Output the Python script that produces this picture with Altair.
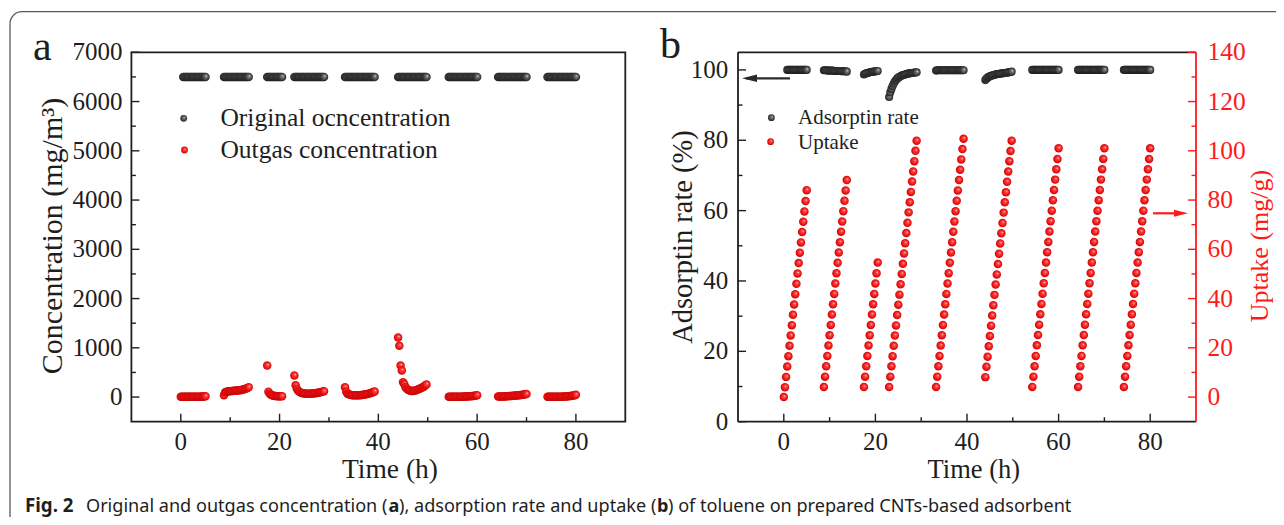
import altair as alt
import pandas as pd

SERIF = "Liberation Serif"
SANS = "Noto Sans"
RED = "#ff1a1a"
INK = "#1e1e1e"

# ---------------- sample times (h), one list per adsorption run ----------------
T1 = [0.0, 0.25, 0.5, 0.75, 1.0, 1.25, 1.5, 1.75, 2.0, 2.25, 2.5, 2.75, 3.0, 3.25, 3.5, 3.75, 4.0, 4.25, 4.5, 4.75, 5.0]
T2 = [8.75, 9.0, 9.25, 9.5, 9.75, 10.0, 10.25, 10.5, 10.75, 11.0, 11.25, 11.5, 11.75, 12.0, 12.25, 12.5, 12.75, 13.0, 13.25, 13.5, 13.75]
T3 = [17.5, 17.75, 18.0, 18.25, 18.5, 18.75, 19.0, 19.25, 19.5, 19.75, 20.0, 20.25, 20.5]
T4 = [23.0, 23.25, 23.5, 23.75, 24.0, 24.25, 24.5, 24.75, 25.0, 25.25, 25.5, 25.75, 26.0, 26.25, 26.5, 26.75, 27.0, 27.25, 27.5, 27.75, 28.0, 28.25, 28.5, 28.75, 29.0]
T5 = [33.25, 33.5, 33.75, 34.0, 34.25, 34.5, 34.75, 35.0, 35.25, 35.5, 35.75, 36.0, 36.25, 36.5, 36.75, 37.0, 37.25, 37.5, 37.75, 38.0, 38.25, 38.5, 38.75, 39.0, 39.25]
T6 = [44.0, 44.25, 44.5, 44.75, 45.0, 45.25, 45.5, 45.75, 46.0, 46.25, 46.5, 46.75, 47.0, 47.25, 47.5, 47.75, 48.0, 48.25, 48.5, 48.75, 49.0, 49.25, 49.5, 49.75]
T7 = [54.25, 54.5, 54.75, 55.0, 55.25, 55.5, 55.75, 56.0, 56.25, 56.5, 56.75, 57.0, 57.25, 57.5, 57.75, 58.0, 58.25, 58.5, 58.75, 59.0, 59.25, 59.5, 59.75, 60.0]
T8 = [64.25, 64.5, 64.75, 65.0, 65.25, 65.5, 65.75, 66.0, 66.25, 66.5, 66.75, 67.0, 67.25, 67.5, 67.75, 68.0, 68.25, 68.5, 68.75, 69.0, 69.25, 69.5, 69.75, 70.0]
T9 = [74.25, 74.5, 74.75, 75.0, 75.25, 75.5, 75.75, 76.0, 76.25, 76.5, 76.75, 77.0, 77.25, 77.5, 77.75, 78.0, 78.25, 78.5, 78.75, 79.0, 79.25, 79.5, 79.75, 80.0]

# ---------------- (a) original concentration (mg/m3) ----------------
ORIG_T1 = [0.5, 0.75, 1.0, 1.25, 1.5, 1.75, 2.0, 2.25, 2.5, 2.75, 3.0, 3.25, 3.5, 3.75, 4.0, 4.25, 4.5, 4.75, 5.0]
ORIG_1 = [6500, 6500, 6500, 6500, 6500, 6500, 6500, 6500, 6500, 6500, 6500, 6500, 6500, 6500, 6500, 6500, 6500, 6500, 6500]
ORIG_2 = [6500, 6500, 6500, 6500, 6500, 6500, 6500, 6500, 6500, 6500, 6500, 6500, 6500, 6500, 6500, 6500, 6500, 6500, 6500, 6500, 6500]
ORIG_3 = [6500, 6500, 6500, 6500, 6500, 6500, 6500, 6500, 6500, 6500, 6500, 6500, 6500]
ORIG_4 = [6500, 6500, 6500, 6500, 6500, 6500, 6500, 6500, 6500, 6500, 6500, 6500, 6500, 6500, 6500, 6500, 6500, 6500, 6500, 6500, 6500, 6500, 6500, 6500, 6500]
ORIG_5 = [6500, 6500, 6500, 6500, 6500, 6500, 6500, 6500, 6500, 6500, 6500, 6500, 6500, 6500, 6500, 6500, 6500, 6500, 6500, 6500, 6500, 6500, 6500, 6500, 6500]
ORIG_6 = [6500, 6500, 6500, 6500, 6500, 6500, 6500, 6500, 6500, 6500, 6500, 6500, 6500, 6500, 6500, 6500, 6500, 6500, 6500, 6500, 6500, 6500, 6500, 6500]
ORIG_7 = [6500, 6500, 6500, 6500, 6500, 6500, 6500, 6500, 6500, 6500, 6500, 6500, 6500, 6500, 6500, 6500, 6500, 6500, 6500, 6500, 6500, 6500, 6500, 6500]
ORIG_8 = [6500, 6500, 6500, 6500, 6500, 6500, 6500, 6500, 6500, 6500, 6500, 6500, 6500, 6500, 6500, 6500, 6500, 6500, 6500, 6500, 6500, 6500, 6500, 6500]
ORIG_9 = [6500, 6500, 6500, 6500, 6500, 6500, 6500, 6500, 6500, 6500, 6500, 6500, 6500, 6500, 6500, 6500, 6500, 6500, 6500, 6500, 6500, 6500, 6500, 6500]

# ---------------- (a) outgas concentration (mg/m3) ----------------
OUT_1 = [5, 5, 5, 5, 5, 5, 5, 5, 5, 5, 5, 5, 5, 5, 8, 8, 8, 10, 10, 12, 15]
OUT_2 = [35, 100, 110, 115, 118, 120, 122, 125, 127, 130, 132, 135, 138, 140, 145, 150, 158, 165, 175, 185, 200]
OUT_3 = [640, 110, 65, 45, 35, 28, 22, 20, 18, 16, 15, 15, 18]
OUT_4 = [440, 240, 170, 130, 110, 95, 85, 80, 75, 72, 70, 70, 70, 70, 72, 75, 78, 80, 85, 90, 95, 100, 105, 112, 120]
OUT_5 = [200, 110, 70, 55, 45, 40, 38, 36, 35, 35, 35, 36, 38, 40, 42, 45, 50, 55, 60, 68, 76, 85, 95, 105, 115]
OUT_6 = [1210, 1040, 640, 540, 300, 265, 200, 170, 150, 138, 130, 125, 125, 128, 135, 145, 155, 165, 175, 188, 200, 215, 235, 255]
OUT_7 = [5, 5, 5, 5, 5, 5, 5, 5, 6, 6, 7, 8, 10, 10, 12, 14, 15, 17, 19, 21, 24, 27, 31, 38]
OUT_8 = [10, 10, 10, 11, 12, 13, 15, 16, 18, 20, 21, 23, 25, 27, 30, 32, 35, 38, 40, 43, 46, 50, 55, 62]
OUT_9 = [5, 5, 5, 5, 5, 5, 5, 5, 6, 6, 7, 8, 9, 10, 11, 13, 15, 17, 20, 23, 26, 30, 36, 45]

# ---------------- (b) adsorption rate (%) ----------------
RATE_T1 = [0.75, 1.0, 1.25, 1.5, 1.75, 2.0, 2.25, 2.5, 2.75, 3.0, 3.25, 3.5, 3.75, 4.0, 4.25, 4.5, 4.75, 5.0]
RATE_1 = [100.0, 100.0, 100.0, 100.0, 100.0, 100.0, 100.0, 100.0, 100.0, 100.0, 100.0, 100.0, 100.0, 100.0, 100.0, 100.0, 100.0, 100.0]
RATE_2 = [99.9, 99.9, 99.9, 99.8, 99.8, 99.8, 99.8, 99.8, 99.8, 99.7, 99.7, 99.7, 99.7, 99.7, 99.7, 99.6, 99.6, 99.6, 99.6, 99.6, 99.5]
RATE_3 = [98.7, 98.9, 99.0, 99.1, 99.2, 99.3, 99.4, 99.4, 99.5, 99.5, 99.6, 99.6, 99.7]
RATE_4 = [92.3, 93.6, 94.6, 95.4, 96.1, 96.7, 97.1, 97.5, 97.8, 98.0, 98.2, 98.4, 98.5, 98.6, 98.7, 98.8, 98.9, 99.0, 99.0, 99.1, 99.1, 99.2, 99.2, 99.3, 99.3]
RATE_5 = [99.8, 99.9, 99.9, 99.9, 99.9, 99.9, 99.9, 99.9, 99.9, 99.9, 99.9, 99.9, 99.9, 99.9, 99.9, 99.9, 99.9, 99.9, 99.9, 99.9, 99.9, 99.9, 99.9, 99.9, 99.9]
RATE_6 = [97.1, 97.5, 97.8, 98.0, 98.2, 98.3, 98.4, 98.5, 98.6, 98.7, 98.8, 98.8, 98.9, 98.9, 99.0, 99.0, 99.1, 99.1, 99.2, 99.2, 99.3, 99.3, 99.4, 99.5]
RATE_7 = [100.0, 100.0, 100.0, 100.0, 100.0, 100.0, 100.0, 100.0, 100.0, 100.0, 100.0, 100.0, 100.0, 100.0, 100.0, 100.0, 100.0, 100.0, 100.0, 100.0, 100.0, 100.0, 100.0, 100.0]
RATE_8 = [100.0, 100.0, 100.0, 100.0, 100.0, 100.0, 100.0, 100.0, 100.0, 100.0, 100.0, 100.0, 100.0, 100.0, 100.0, 100.0, 100.0, 100.0, 100.0, 100.0, 100.0, 100.0, 100.0, 100.0]
RATE_9 = [100.0, 100.0, 100.0, 100.0, 100.0, 100.0, 100.0, 100.0, 100.0, 100.0, 100.0, 100.0, 100.0, 100.0, 100.0, 100.0, 100.0, 100.0, 100.0, 100.0, 100.0, 100.0, 100.0, 100.0]

# ---------------- (b) uptake (mg/g) ----------------
UPT_1 = [0.0, 4.0, 8.2, 12.4, 16.6, 20.8, 25.0, 29.2, 33.4, 37.6, 41.8, 46.0, 50.2, 54.4, 58.6, 62.8, 67.0, 71.2, 75.4, 79.6, 84.0]
UPT_2 = [4.1, 8.3, 12.5, 16.7, 20.9, 25.1, 29.3, 33.5, 37.7, 41.9, 46.1, 50.3, 54.5, 58.7, 62.9, 67.1, 71.3, 75.5, 79.7, 83.9, 88.1]
UPT_3 = [4.1, 8.3, 12.5, 16.7, 20.9, 25.1, 29.3, 33.5, 37.7, 41.9, 46.1, 50.3, 54.6]
UPT_4 = [4.1, 8.3, 12.5, 16.6, 20.8, 25.0, 29.1, 33.3, 37.5, 41.6, 45.8, 50.0, 54.1, 58.3, 62.5, 66.6, 70.8, 75.0, 79.1, 83.3, 87.5, 91.6, 95.8, 100.0, 104.1]
UPT_5 = [4.1, 8.3, 12.5, 16.7, 20.9, 25.1, 29.3, 33.5, 37.7, 41.9, 46.1, 50.3, 54.5, 58.7, 62.9, 67.1, 71.3, 75.5, 79.7, 83.9, 88.1, 92.3, 96.5, 100.7, 104.9]
UPT_6 = [8.1, 12.3, 16.4, 20.6, 24.8, 29.0, 33.1, 37.3, 41.5, 45.7, 49.8, 54.0, 58.2, 62.4, 66.5, 70.7, 74.9, 79.1, 83.2, 87.4, 91.6, 95.8, 99.9, 104.1]
UPT_7 = [4.1, 8.3, 12.5, 16.7, 21.0, 25.2, 29.4, 33.6, 37.8, 42.0, 46.2, 50.4, 54.6, 58.8, 63.0, 67.2, 71.4, 75.7, 79.9, 84.1, 88.3, 92.5, 96.7, 101.0]
UPT_8 = [4.1, 8.3, 12.5, 16.7, 21.0, 25.2, 29.4, 33.6, 37.8, 42.0, 46.2, 50.4, 54.6, 58.8, 63.0, 67.2, 71.4, 75.7, 79.9, 84.1, 88.3, 92.5, 96.7, 101.0]
UPT_9 = [4.1, 8.3, 12.5, 16.7, 21.0, 25.2, 29.4, 33.6, 37.8, 42.0, 46.2, 50.4, 54.6, 58.8, 63.0, 67.2, 71.4, 75.7, 79.9, 84.1, 88.3, 92.5, 96.7, 101.0]

# ---------------- axes: domains and tick values ----------------
X_DOMAIN = [-10, 90]
A_Y_DOMAIN = [-500, 7000]
B_YL_DOMAIN = [0, 105]
B_YR_DOMAIN = [-10, 140]
X_MAJOR = [0, 20, 40, 60, 80]
X_MINOR = [10, 30, 50, 70]
A_Y_MAJOR = [0, 1000, 2000, 3000, 4000, 5000, 6000, 7000]
A_Y_MINOR = [500, 1500, 2500, 3500, 4500, 5500, 6500]
B_YL_MAJOR = [0, 20, 40, 60, 80, 100]
B_YL_MINOR = [10, 30, 50, 70, 90]
B_YR_MAJOR = [0, 20, 40, 60, 80, 100, 120, 140]
B_YR_MINOR = [10, 30, 50, 70, 90, 110, 130]

# ---------------- layout (pixels inside the view) ----------------
W, H = 1268, 509
TOP, BOTTOM = 44.3, 413.7
A_LEFT, A_RIGHT = 123.4, 617.3
B_LEFT, B_RIGHT = 730.0, 1188.0
MAJ, MIN = 8, 4.5

xa = alt.Scale(domain=X_DOMAIN, range=[A_LEFT, A_RIGHT], nice=False, zero=False)
ya = alt.Scale(domain=A_Y_DOMAIN, range=[BOTTOM, TOP], nice=False, zero=False)
xb = alt.Scale(domain=X_DOMAIN, range=[B_LEFT, B_RIGHT], nice=False, zero=False)
ybl = alt.Scale(domain=B_YL_DOMAIN, range=[BOTTOM, TOP], nice=False, zero=False)
ybr = alt.Scale(domain=B_YR_DOMAIN, range=[BOTTOM, TOP], nice=False, zero=False)

ONE = pd.DataFrame({"k": [0]})


def grad(c0, c1, c2, c3):
    return {"gradient": "radial", "x1": 0.6, "y1": 0.38, "r1": 0.0,
            "x2": 0.5, "y2": 0.5, "r2": 0.55,
            "stops": [{"offset": 0.0, "color": c0}, {"offset": 0.22, "color": c1},
                      {"offset": 0.7, "color": c2}, {"offset": 1.0, "color": c3}]}


RED_BALL = grad("#ffe6e6", "#ff4a4a", "#f01010", "#b00000")
BLK_BALL = grad("#f0f0f0", "#7a7a7a", "#404040", "#151515")


def frame_df(times, vals):
    t, v = [], []
    for a, b in zip(times, vals):
        t += a
        v += b
    return pd.DataFrame({"t": t, "v": v})


orig_df = frame_df([ORIG_T1, T2, T3, T4, T5, T6, T7, T8, T9],
                   [ORIG_1, ORIG_2, ORIG_3, ORIG_4, ORIG_5, ORIG_6, ORIG_7, ORIG_8, ORIG_9])
out_df = frame_df([T1, T2, T3, T4, T5, T6, T7, T8, T9],
                  [OUT_1, OUT_2, OUT_3, OUT_4, OUT_5, OUT_6, OUT_7, OUT_8, OUT_9])
rate_df = frame_df([RATE_T1, T2, T3, T4, T5, T6, T7, T8, T9],
                   [RATE_1, RATE_2, RATE_3, RATE_4, RATE_5, RATE_6, RATE_7, RATE_8, RATE_9])
upt_df = frame_df([T1, T2, T3, T4, T5, T6, T7, T8, T9],
                  [UPT_1, UPT_2, UPT_3, UPT_4, UPT_5, UPT_6, UPT_7, UPT_8, UPT_9])


def balls(df, xs, ys, fill, size=66):
    return alt.Chart(df).mark_circle(size=size, fill=fill, opacity=1).encode(
        x=alt.X("t:Q", scale=xs, axis=None), y=alt.Y("v:Q", scale=ys, axis=None))


def vticks(vals, xs, y0, y1, color=INK):
    return alt.Chart(pd.DataFrame({"v": vals})).mark_rule(color=color, strokeWidth=1.4).encode(
        x=alt.X("v:Q", scale=xs, axis=None), y=alt.value(y0), y2=alt.value(y1))


def hticks(vals, ys, x0, x1, color=INK):
    return alt.Chart(pd.DataFrame({"v": vals})).mark_rule(color=color, strokeWidth=1.4).encode(
        y=alt.Y("v:Q", scale=ys, axis=None), x=alt.value(x0), x2=alt.value(x1))


def xlabels(vals, xs, y, size):
    return alt.Chart(pd.DataFrame({"v": vals})).mark_text(
        font=SERIF, fontSize=size, color=INK, align="center", baseline="middle").encode(
        x=alt.X("v:Q", scale=xs, axis=None), y=alt.value(y), text=alt.Text("v:Q", format="d"))


def ylabels(vals, ys, x, align, size, color=INK):
    return alt.Chart(pd.DataFrame({"v": vals})).mark_text(
        font=SERIF, fontSize=size, color=color, align=align, baseline="middle").encode(
        y=alt.Y("v:Q", scale=ys, axis=None), x=alt.value(x), text=alt.Text("v:Q", format="d"))


def label(txt, x, y, size, font=SERIF, color=INK, angle=0, align="center",
          baseline="middle", weight="normal"):
    return alt.Chart(ONE).mark_text(text=txt, font=font, fontSize=size, color=color, angle=angle,
                                    align=align, baseline=baseline, fontWeight=weight).encode(
        x=alt.value(x), y=alt.value(y))


def dot(x, y, fill, size=46):
    return alt.Chart(ONE).mark_circle(size=size, fill=fill, opacity=1).encode(
        x=alt.value(x), y=alt.value(y))


def hline(x0, x1, y, color, width=2.2):
    return alt.Chart(ONE).mark_rule(color=color, strokeWidth=width).encode(
        x=alt.value(x0), x2=alt.value(x1), y=alt.value(y))


def head(x, y, path, color, size):
    return alt.Chart(ONE).mark_point(shape=path, filled=True, size=size, color=color,
                                     opacity=1, strokeWidth=0).encode(x=alt.value(x), y=alt.value(y))


# ---------------- outer frame ----------------
frame = alt.Chart(ONE).mark_rect(cornerRadius=12, fill="white", fillOpacity=0,
                                 stroke="#5a5a5a", strokeWidth=1.3).encode(
    x=alt.value(2), x2=alt.value(1420), y=alt.value(3.7), y2=alt.value(600))

# ---------------- panel a ----------------
box_a = alt.Chart(pd.DataFrame({"x0": [X_DOMAIN[0]], "x1": [X_DOMAIN[1]],
                                "y0": [A_Y_DOMAIN[0]], "y1": [A_Y_DOMAIN[1]]})).mark_rect(
    fill="white", fillOpacity=0, stroke=INK, strokeWidth=1.8).encode(
    x=alt.X("x0:Q", scale=xa, axis=None), x2="x1:Q",
    y=alt.Y("y0:Q", scale=ya, axis=None), y2="y1:Q")

panel_a = alt.layer(
    box_a,
    vticks(X_MAJOR, xa, BOTTOM, BOTTOM - MAJ),
    vticks(X_MINOR, xa, BOTTOM, BOTTOM - MIN),
    hticks(A_Y_MAJOR, ya, A_LEFT, A_LEFT + MAJ),
    hticks(A_Y_MINOR, ya, A_LEFT, A_LEFT + MIN),
    xlabels(X_MAJOR, xa, 433.7, 25),
    ylabels(A_Y_MAJOR, ya, 114.4, "right", 25),
    balls(orig_df, xa, ya, BLK_BALL, size=72),
    balls(out_df, xa, ya, RED_BALL, size=72),
    label("Time (h)", 382, 462, 27.5),
    label("Concentration (mg/m³)", 45, 228, 30, angle=270),
    label("a", 25, 52, 42, align="left", baseline="alphabetic"),
    dot(175.7, 110.3, BLK_BALL),
    dot(176.5, 142.0, RED_BALL),
    label("Original ocncentration", 212.4, 110.3, 25.5, align="left"),
    label("Outgas concentration", 212.4, 142.0, 25.5, align="left"),
)

# ---------------- panel b ----------------
lines_b = alt.Chart(pd.DataFrame({"x0": [-10, -10, -10], "x1": [90, 90, -10],
                                  "y0": [0, 105, 0], "y1": [0, 105, 105]})).mark_rule(
    color=INK, strokeWidth=1.8).encode(
    x=alt.X("x0:Q", scale=xb, axis=None), x2="x1:Q",
    y=alt.Y("y0:Q", scale=ybl, axis=None), y2="y1:Q")
red_axis = alt.Chart(pd.DataFrame({"x0": [90], "x1": [90], "y0": [0], "y1": [105]})).mark_rule(
    color=RED, strokeWidth=1.8).encode(
    x=alt.X("x0:Q", scale=xb, axis=None), x2="x1:Q",
    y=alt.Y("y0:Q", scale=ybl, axis=None), y2="y1:Q")

left_b = alt.layer(
    lines_b, red_axis,
    vticks(X_MAJOR, xb, BOTTOM, BOTTOM - MAJ),
    vticks(X_MINOR, xb, BOTTOM, BOTTOM - MIN),
    hticks(B_YL_MAJOR, ybl, B_LEFT, B_LEFT + MAJ),
    hticks(B_YL_MINOR, ybl, B_LEFT, B_LEFT + MIN),
    xlabels(X_MAJOR, xb, 433.7, 25),
    ylabels(B_YL_MAJOR, ybl, 720.3, "right", 25),
    balls(rate_df, xb, ybl, BLK_BALL, size=66),
)
right_b = alt.layer(
    hticks(B_YR_MAJOR, ybr, B_RIGHT - MAJ, B_RIGHT, RED),
    hticks(B_YR_MINOR, ybr, B_RIGHT - MIN, B_RIGHT, RED),
    ylabels(B_YR_MAJOR, ybr, 1199.5, "left", 25.5, RED),
    balls(upt_df, xb, ybr, RED_BALL, size=72),
)
deco_b = alt.layer(
    label("Time (h)", 965.8, 462, 26.5),
    label("Adsorptin rate (%)", 675, 229, 28.5, angle=270),
    label("Uptake (mg/g)", 1252, 238, 26, angle=270, color=RED),
    label("b", 652, 50, 42, align="left", baseline="alphabetic"),
    dot(763.4, 109.7, BLK_BALL),
    dot(762.6, 133.7, RED_BALL),
    label("Adsorptin rate", 790, 109.7, 21, align="left"),
    label("Uptake", 790, 135.0, 21, align="left"),
    hline(738, 782, 70.3, "#2a2a2a"),
    head(741.5, 70.3, "M-1,0L1,-0.5L1,0.5Z", "#2a2a2a", 225),
    hline(1145, 1170, 205.3, RED),
    head(1173, 205.3, "M1,0L-1,-0.5L-1,0.5Z", RED, 196),
)
panel_b = alt.layer(left_b, right_b, deco_b).resolve_scale(y="independent")

# ---------------- caption ----------------
CAP_Y = 503.5
CAP = 18.1
caption = alt.layer(
    label("Fig. 2", 17, CAP_Y, CAP + 0.6, font=SANS, align="left", baseline="alphabetic",
          weight="bold"),
    label("Original and outgas concentration (", 78, CAP_Y, CAP, font=SANS, align="left",
          baseline="alphabetic"),
    label("a", 380.5, CAP_Y, CAP, font=SANS, align="left", baseline="alphabetic", weight="bold"),
    label("), adsorption rate and uptake (", 391, CAP_Y, CAP, font=SANS, align="left",
          baseline="alphabetic"),
    label("b", 649, CAP_Y, CAP, font=SANS, align="left", baseline="alphabetic", weight="bold"),
    label(") of toluene on prepared CNTs-based adsorbent", 660, CAP_Y, CAP, font=SANS,
          align="left", baseline="alphabetic"),
)

chart = alt.layer(frame, panel_a, panel_b, caption).resolve_scale(
    x="independent", y="independent"
).properties(
    width=W, height=H, padding=0, autosize=alt.AutoSizeParams(type="none"),
    background="white",
).configure_view(strokeWidth=0)

chart.save("out.html", embed_options={"renderer": "svg", "actions": False})
